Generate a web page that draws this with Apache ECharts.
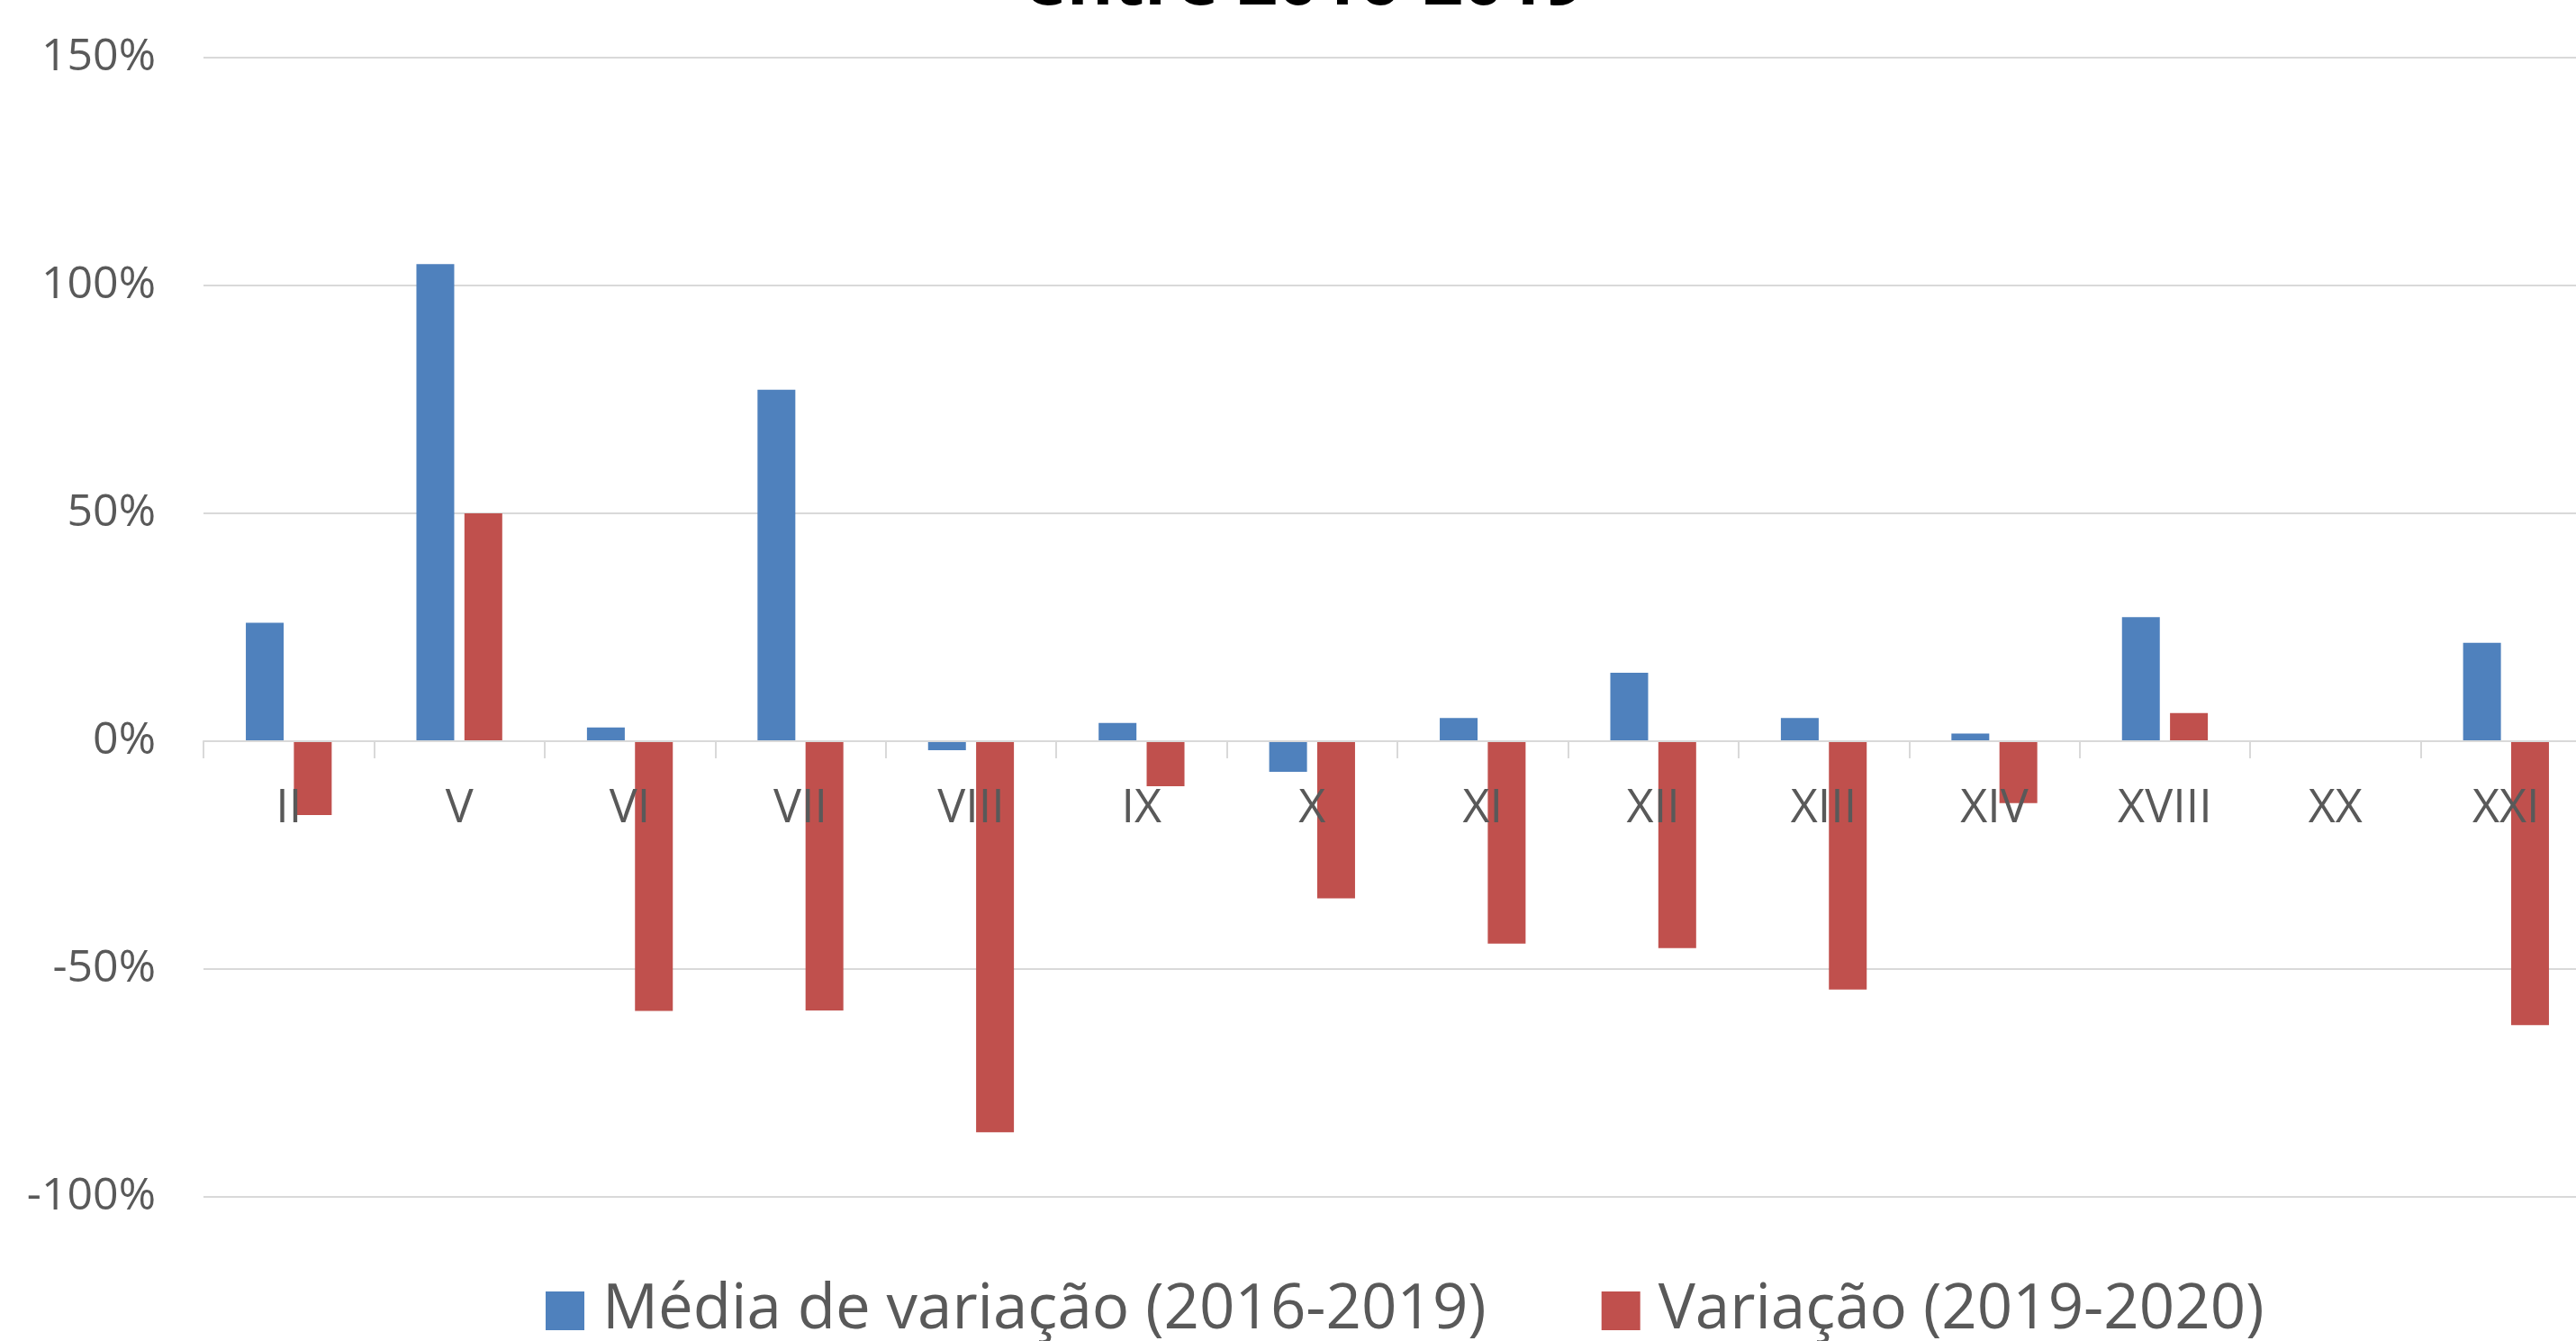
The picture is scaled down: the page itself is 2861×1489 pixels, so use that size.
<!doctype html>
<html>
	<head>
		<meta charset="utf-8">
		<title>Variação</title>
		<script src="https://cdn.jsdelivr.net/npm/echarts@6/dist/echarts.min.js"></script>
		<style>
			html, body { margin: 0; padding: 0; background: #fff; }
			#chart { width: 2861px; height: 1489px; }
		</style>
	</head>
	<body>
		<div id="chart"></div>
		<script type="text/javascript">
			// categorias (capítulos)
			var categorias = ['II', 'V', 'VI', 'VII', 'VIII', 'IX', 'X', 'XI', 'XII', 'XIII', 'XIV', 'XVIII', 'XX', 'XXI'];
			// Média de variação (2016-2019), em %
			var media = [26.0, 104.7, 3.0, 77.1, -2.0, 4.0, -6.7, 5.1, 15.0, 5.1, 1.7, 27.2, 0, 21.6];
			// Variação (2019-2020), em %
			var variacao = [-16.2, 50.0, -59.2, -59.1, -85.8, -9.9, -34.5, -44.4, -45.4, -54.5, -13.6, 6.2, 0, -62.3];
			var nomes = ['Média de variação (2016-2019)', 'Variação (2019-2020)'];
			var tituloLinha = 'entre 2016-2019';

			var fonte = "'Open Sans', 'Noto Sans', sans-serif";
			var cinza = '#595959';
			var linha = '#d9d9d9';

			// altura da área do gráfico e posição do zero (eixo das categorias fica no 0%)
			var gridTop = 64, gridHeight = 1265;
			var yMin = -100, yMax = 150;
			var zeroOffset = -gridHeight * (0 - yMin) / (yMax - yMin);

			var chart = echarts.init(document.getElementById('chart'));
			chart.setOption({
				animation: false,
				backgroundColor: '#fff',
				textStyle: { fontFamily: fonte },
				title: {
					text: tituloLinha,
					left: 1138,
					top: -57,
					padding: 0,
					textStyle: { fontFamily: fonte, fontSize: 79, fontWeight: 'bold', color: '#000' }
				},
				legend: {
					data: nomes,
					left: 606,
					top: 1421,
					padding: 0,
					icon: 'rect',
					itemWidth: 43,
					itemHeight: 43,
					itemGap: 128,
					textStyle: { fontFamily: fonte, fontSize: 69, color: cinza, padding: [0, 0, 0, 15] }
				},
				grid: {
					left: 226,
					top: gridTop,
					width: 2652,
					height: gridHeight,
					outerBoundsMode: 'none',
					containLabel: false
				},
				xAxis: {
					type: 'category',
					data: categorias,
					z: 10,
					offset: zeroOffset,
					axisLine: { onZero: false, lineStyle: { color: linha, width: 2 } },
					axisTick: { show: true, length: 19, alignWithLabel: false, lineStyle: { color: linha, width: 2 } },
					axisLabel: { margin: 49, fontSize: 52, color: cinza, fontFamily: fonte, interval: 0 }
				},
				yAxis: {
					type: 'value',
					min: yMin,
					max: yMax,
					interval: 50,
					axisLine: { show: false },
					axisTick: { show: false },
					splitLine: { lineStyle: { color: linha, width: 2 } },
					axisLabel: { margin: 53, fontSize: 50, color: cinza, fontFamily: fonte, padding: [7, 0, 0, 0], formatter: '{value}%' }
				},
				series: [
					{
						name: nomes[0],
						type: 'bar',
						data: media,
						barWidth: 42,
						barGap: '27%',
						itemStyle: { color: '#4F81BD' }
					},
					{
						name: nomes[1],
						type: 'bar',
						data: variacao,
						barWidth: 42,
						itemStyle: { color: '#C0504D' }
					}
				]
			});
		</script>
	</body>
</html>
